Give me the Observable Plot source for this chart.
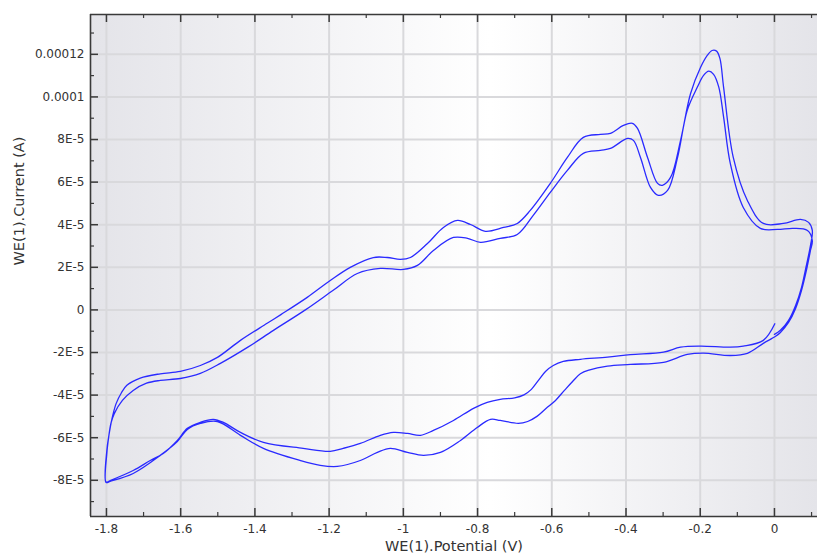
<!DOCTYPE html>
<html><head><meta charset="utf-8">
<script src="https://cdn.jsdelivr.net/npm/d3@7"></script>
<script src="https://cdn.jsdelivr.net/npm/@observablehq/plot@0.6"></script>
<style>html,body{margin:0;padding:0;background:#fff;}</style>
</head><body><div id="chart"></div>
<script>
// Axis ticks and labels
const xTicks = [-1.8, -1.6, -1.4, -1.2, -1, -0.8, -0.6, -0.4, -0.2, 0];
const xTickLabels = ["-1.8", "-1.6", "-1.4", "-1.2", "-1", "-0.8", "-0.6", "-0.4", "-0.2", "0"];
const xMinorTicks = [-1.7, -1.5, -1.3, -1.1, -0.9, -0.7, -0.5, -0.3, -0.1, 0.1];
const yTicks = [-8e-5, -6e-5, -4e-5, -2e-5, 0, 2e-5, 4e-5, 6e-5, 8e-5, 1e-4, 1.2e-4];
const yTickLabels = ["-8E-5", "-6E-5", "-4E-5", "-2E-5", "0", "2E-5", "4E-5", "6E-5", "8E-5", "0.0001", "0.00012"];
const yMinorTicks = [-9e-5, -7e-5, -5e-5, -3e-5, -1e-5, 1e-5, 3e-5, 5e-5, 7e-5, 9e-5, 1.1e-4, 1.3e-4];
const xDomain = [-1.843, 0.116];
const yDomain = [-9.7e-5, 1.387e-4];
const xTitle = "WE(1).Potential (V)";
const yTitle = "WE(1).Current (A)";

// Current values below are in units of 1e-5 A
const CURRENT_UNIT = 1e-5;

// Sweep 1, cathodic (0 V -> -1.8 V)
const cath1V = [0.001,-0.030,-0.084,-0.119,-0.199,-0.253,-0.299,-0.388,-0.450,-0.523,-0.569,-0.596,-0.617,-0.636,-0.655,-0.675,-0.700,-0.739,-0.774,-0.811,-0.865,-0.919,-0.954,-0.989,-1.027,-1.062,-1.116,-1.162,-1.197,-1.270,-1.377,-1.439,-1.485,-1.512,-1.547,-1.582,-1.609,-1.647,-1.682,-1.728,-1.790,-1.801];
const cath1I = [-0.65,-1.43,-1.70,-1.75,-1.70,-1.75,-1.98,-2.10,-2.22,-2.32,-2.42,-2.61,-2.89,-3.31,-3.73,-3.99,-4.13,-4.20,-4.34,-4.62,-5.19,-5.66,-5.89,-5.80,-5.75,-5.89,-6.27,-6.50,-6.64,-6.50,-6.22,-5.75,-5.28,-5.14,-5.28,-5.56,-6.13,-6.74,-7.07,-7.54,-8.01,-8.08];

// Sweep 1, anodic (-1.8 V -> 0.1 V)
const anod1V = [-1.799,-1.794,-1.788,-1.779,-1.757,-1.728,-1.692,-1.655,-1.601,-1.547,-1.493,-1.420,-1.350,-1.264,-1.189,-1.124,-1.062,-1.000,-0.962,-0.919,-0.865,-0.827,-0.792,-0.739,-0.693,-0.650,-0.604,-0.558,-0.515,-0.469,-0.442,-0.396,-0.380,-0.361,-0.334,-0.313,-0.288,-0.261,-0.235,-0.208,-0.191,-0.177,-0.164,-0.150,-0.137,-0.119,-0.084,-0.038,0.008,0.051,0.089,0.102];
const anod1I = [-6.74,-5.97,-5.33,-4.87,-4.25,-3.78,-3.44,-3.31,-3.22,-2.98,-2.51,-1.76,-0.96,0.00,0.92,1.71,1.95,1.90,2.09,2.79,3.40,3.36,3.17,3.36,3.54,4.44,5.52,6.55,7.35,7.49,7.58,8.05,7.96,7.16,5.75,5.38,5.61,7.16,9.37,10.45,11.01,11.21,11.06,10.46,9.05,6.88,4.81,3.83,3.78,3.83,3.73,3.26];

// Sweep 2, cathodic (0.1 V -> -1.8 V)
const cath2V = [0.097,0.086,0.073,0.057,0.038,0.016,0.003,-0.030,-0.073,-0.119,-0.191,-0.235,-0.299,-0.388,-0.450,-0.500,-0.523,-0.544,-0.566,-0.590,-0.615,-0.640,-0.665,-0.690,-0.739,-0.765,-0.801,-0.846,-0.900,-0.946,-0.989,-1.035,-1.070,-1.116,-1.178,-1.224,-1.278,-1.377,-1.439,-1.501,-1.547,-1.582,-1.609,-1.655,-1.728,-1.790,-1.801];
const cath2I = [2.79,1.85,0.92,0.07,-0.59,-1.06,-1.24,-1.57,-2.04,-2.14,-2.03,-2.09,-2.46,-2.56,-2.64,-2.83,-3.00,-3.36,-3.78,-4.25,-4.62,-5.00,-5.24,-5.33,-5.19,-5.14,-5.52,-6.13,-6.69,-6.83,-6.69,-6.50,-6.69,-7.07,-7.35,-7.30,-7.07,-6.50,-5.89,-5.24,-5.33,-5.61,-6.18,-6.83,-7.68,-8.05,-8.10];

// Sweep 2, anodic (-1.8 V -> 0.1 V)
const anod2V = [-1.799,-1.793,-1.785,-1.774,-1.760,-1.745,-1.709,-1.655,-1.601,-1.547,-1.501,-1.439,-1.367,-1.330,-1.259,-1.197,-1.143,-1.081,-1.043,-1.008,-0.981,-0.935,-0.892,-0.854,-0.819,-0.779,-0.730,-0.693,-0.658,-0.604,-0.558,-0.515,-0.469,-0.442,-0.407,-0.383,-0.369,-0.342,-0.315,-0.302,-0.280,-0.253,-0.226,-0.199,-0.181,-0.168,-0.156,-0.147,-0.137,-0.111,-0.073,-0.030,0.024,0.070,0.092,0.102];
const anod2I = [-6.60,-5.85,-5.10,-4.40,-3.90,-3.54,-3.20,-3.00,-2.89,-2.61,-2.23,-1.43,-0.63,-0.22,0.59,1.38,2.00,2.46,2.46,2.37,2.46,3.12,3.87,4.20,4.01,3.69,3.87,4.06,4.67,5.94,7.16,8.10,8.24,8.29,8.66,8.76,8.52,7.16,5.94,5.85,6.22,7.96,10.16,11.39,11.95,12.18,12.15,11.81,10.45,7.16,5.14,4.06,4.06,4.25,4.11,3.73];

// Final return (0.1 V -> 0 V)
const finalV = [0.097,0.086,0.073,0.057,0.038,0.016,0.000];
const finalI = [3.02,2.09,1.06,0.21,-0.49,-0.96,-1.15];

const sweeps = [[cath1V, cath1I], [anod1V, anod1I], [cath2V, cath2I], [anod2V, anod2I], [finalV, finalI]];
const rows = [];
sweeps.forEach(([V, I]) => V.forEach((v, k) => rows.push({v, i: I[k] * CURRENT_UNIT})));

const plotW = 817, plotH = 553, mL = 90, mR = 0, mT = 14, mB = 37;
const innerW = plotW - mL - mR, innerH = plotH - mT - mB;
const axisColor = "#3a3a3a";
const gridColor = "#d9d9dc";

const svg = Plot.plot({
  width: plotW, height: plotH,
  marginLeft: mL, marginRight: mR, marginTop: mT, marginBottom: mB,
  x: {domain: xDomain, axis: null},
  y: {domain: yDomain, axis: null},
  style: {fontFamily: "DejaVu Sans, sans-serif", fontSize: "12px", color: "#333", background: "#fff"},
  marks: [
    Plot.frame({fill: "url(#bgGrad)", stroke: null}),
    Plot.ruleX(xTicks, {x: d => d, stroke: gridColor, strokeWidth: 2}),
    Plot.ruleY(yTicks, {y: d => d, stroke: gridColor, strokeWidth: 2}),
    Plot.line(rows, {x: "v", y: "i", curve: "catmull-rom", stroke: "#2a2aff", strokeWidth: 1.3}),
    // axis lines
    Plot.ruleX([xDomain[0]], {x: d => d, stroke: axisColor, strokeWidth: 1.6}),
    Plot.ruleY([yDomain[0]], {y: d => d, stroke: axisColor, strokeWidth: 1.6}),
    Plot.ruleY([yDomain[1]], {y: d => d, stroke: axisColor, strokeWidth: 1.6}),
    // inward tick marks: bottom, top, left
    Plot.ruleX(xTicks, {x: d => d, insetTop: innerH - 8, stroke: axisColor, strokeWidth: 1.5}),
    Plot.ruleX(xMinorTicks, {x: d => d, insetTop: innerH - 4, stroke: axisColor, strokeWidth: 1.2}),
    Plot.ruleX(xTicks, {x: d => d, insetBottom: innerH - 8, stroke: axisColor, strokeWidth: 1.5}),
    Plot.ruleX(xMinorTicks, {x: d => d, insetBottom: innerH - 4, stroke: axisColor, strokeWidth: 1.2}),
    Plot.ruleY(yTicks, {y: d => d, insetRight: innerW - 8, stroke: axisColor, strokeWidth: 1.5}),
    Plot.ruleY(yMinorTicks, {y: d => d, insetRight: innerW - 4, stroke: axisColor, strokeWidth: 1.2}),
    // tick labels
    Plot.text(xTicks, {x: d => d, frameAnchor: "bottom", dy: 8, lineAnchor: "top", text: (d, k) => xTickLabels[k], fill: "#333", fontSize: 12}),
    Plot.text(yTicks, {y: d => d, frameAnchor: "left", dx: -6, textAnchor: "end", lineAnchor: "middle", text: (d, k) => yTickLabels[k], fill: "#333", fontSize: 12}),
    // axis titles
    Plot.text([xTitle], {frameAnchor: "bottom", dy: 30, lineAnchor: "middle", text: d => d, fill: "#333", fontSize: 14.5}),
    Plot.text([yTitle], {frameAnchor: "left", dx: -71, rotate: -90, lineAnchor: "middle", text: d => d, fill: "#333", fontSize: 14.5})
  ]
});

const defs = d3.select(svg).insert("defs", ":first-child");
const grad = defs.append("linearGradient").attr("id", "bgGrad").attr("x1", "0").attr("x2", "1").attr("y1", "0").attr("y2", "0");
grad.append("stop").attr("offset", "0%").attr("stop-color", "#e4e4e9");
grad.append("stop").attr("offset", "55%").attr("stop-color", "#ffffff");
grad.append("stop").attr("offset", "100%").attr("stop-color", "#e4e4e9");

document.getElementById("chart").appendChild(svg);
</script>
</body></html>
